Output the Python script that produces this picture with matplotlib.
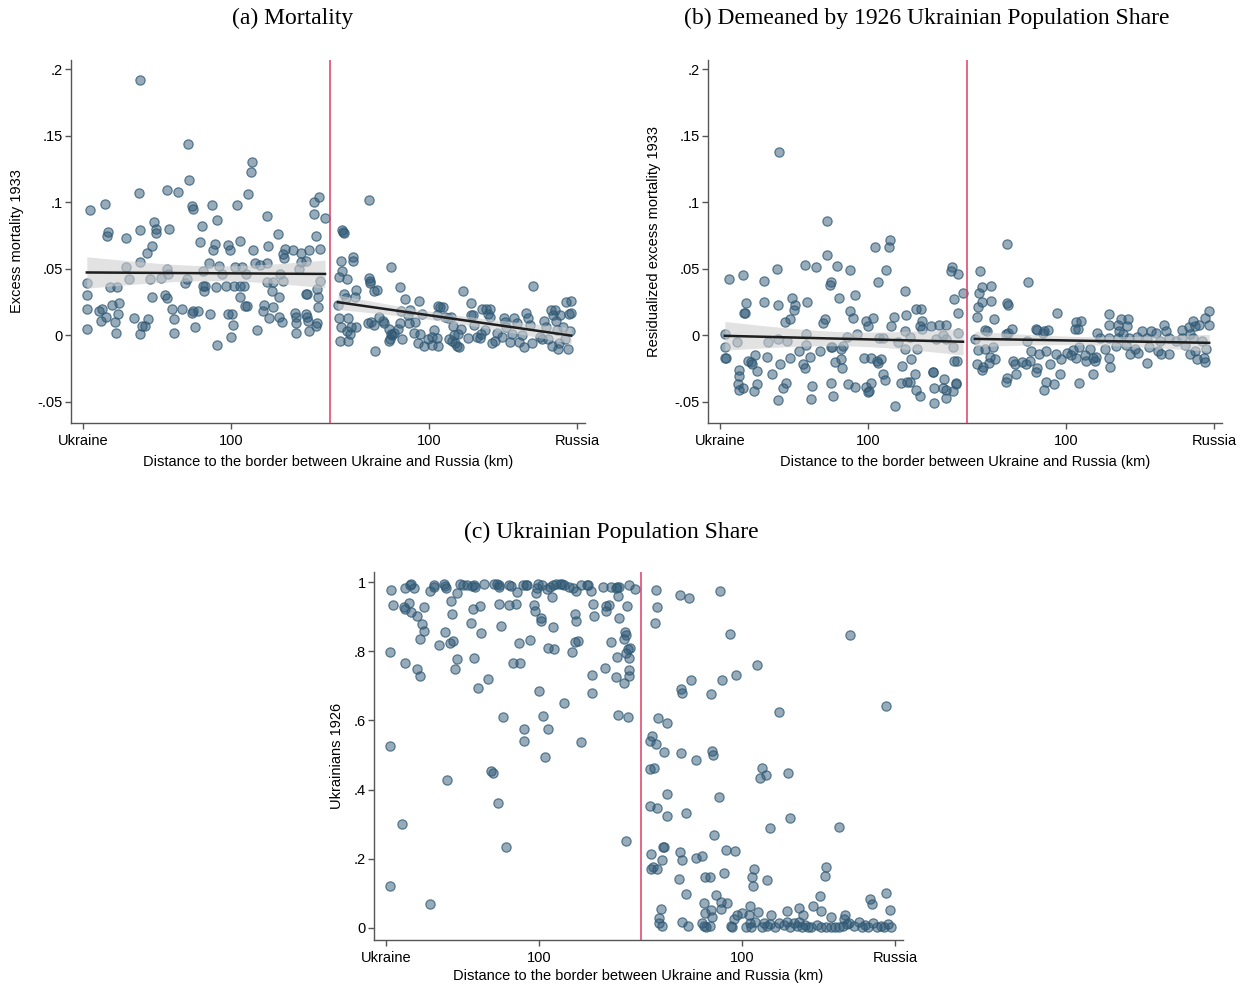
import numpy as np
import matplotlib
matplotlib.use("Agg")
import matplotlib.pyplot as plt

# ---- (a) excess mortality 1933, distance in km (negative = Ukrainian side)
a_west_km = [-246, -246, -246, -246, -243, -231, -234, -232, -228, -226,
             -225, -227, -223, -221, -217, -216, -215, -214, -213, -206,
             -206, -203, -198, -193, -192, -192, -192, -192, -190, -187,
             -185, -184, -182, -180, -180, -178, -176, -176, -171, -167,
             -165, -165, -163, -164, -165, -160, -158, -158, -154, -150,
             -147, -145, -144, -143, -140, -139, -140, -139, -137, -134,
             -132, -129, -128, -128, -127, -126, -122, -121, -119, -118,
             -116, -115, -114, -114, -112, -109, -105, -103, -103, -101,
             -100, -99, -98, -97, -96, -94, -91, -91, -91, -89,
             -87, -86, -84, -85, -83, -80, -79, -78, -76, -74,
             -71, -68, -67, -64, -64, -63, -64, -62, -59, -58,
             -58, -53, -52, -52, -51, -49, -48, -47, -46, -48,
             -37, -35, -34, -34, -34, -31, -29, -29, -24, -24,
             -23, -24, -23, -22, -21, -21, -16, -16, -14, -13,
             -12, -12, -13, -14, -11, -10, -10, -5]
a_west_mort = [0.039, 0.030, 0.020, 0.005, 0.094, 0.020, 0.018, 0.011, 0.099, 0.075,
               0.078, 0.014, 0.036, 0.023, 0.010, 0.002, 0.036, 0.016, 0.024, 0.073,
               0.051, 0.042, 0.013, 0.107, 0.079, 0.055, 0.192, 0.001, 0.007, 0.007,
               0.062, 0.012, 0.042, 0.067, 0.029, 0.085, 0.077, 0.080, 0.043, 0.030,
               0.109, 0.028, 0.080, 0.046, 0.050, 0.020, 0.012, 0.002, 0.108, 0.020,
               0.039, 0.042, 0.144, 0.117, 0.097, 0.095, 0.017, 0.018, 0.006, 0.018,
               0.070, 0.082, 0.048, 0.037, 0.033, 0.037, 0.054, 0.016, 0.098, 0.064,
               0.069, 0.036, -0.007, 0.087, 0.052, 0.046, 0.037, 0.068, 0.016, 0.064,
               -0.001, 0.016, 0.008, 0.037, 0.051, 0.098, 0.071, 0.037, 0.029, 0.051,
               0.037, 0.022, 0.022, 0.046, 0.106, 0.123, 0.130, 0.064, 0.054, 0.004,
               0.053, 0.018, 0.023, 0.040, 0.090, 0.067, 0.054, 0.013, 0.033, 0.021,
               0.040, 0.076, 0.014, 0.029, 0.046, 0.010, 0.061, 0.058, 0.065, 0.041,
               0.064, 0.017, 0.009, 0.014, 0.002, 0.050, 0.062, 0.055, 0.056, 0.031,
               0.031, 0.016, 0.014, 0.011, 0.064, 0.003, 0.100, 0.091, 0.075, 0.035,
               0.029, 0.021, 0.009, 0.007, 0.104, 0.041, 0.065, 0.088]
a_east_km = [39, 12, 14, 13, 11, 23, 23, 12, 9, 17,
             62, 39, 40, 40, 45, 48, 71, 14, 26, 25,
             16, 8, 9, 18, 11, 21, 26, 17, 20, 18,
             10, 38, 41, 45, 46, 50, 55, 54, 60, 62,
             61, 63, 60, 65, 69, 71, 73, 72, 76, 79,
             81, 80, 86, 85, 90, 93, 91, 89, 95, 99,
             103, 103, 105, 108, 109, 109, 111, 114, 108, 116,
             119, 120, 122, 124, 123, 125, 126, 128, 131, 130,
             133, 135, 140, 143, 143, 145, 146, 149, 152, 153,
             154, 157, 158, 160, 162, 162, 164, 167, 169, 174,
             176, 177, 178, 182, 184, 186, 189, 191, 194, 196,
             198, 200, 202, 204, 205, 212, 215, 217, 219, 221,
             224, 225, 226, 228, 229, 230, 231, 232, 233, 236,
             238, 239, 241, 242, 243, 244, 244]
a_east_mort = [0.102, 0.079, 0.077, 0.078, 0.056, 0.059, 0.056, 0.048, 0.044, 0.042,
               0.051, 0.043, 0.041, 0.039, 0.033, 0.034, 0.036, 0.031, 0.034, 0.029,
               0.028, 0.023, 0.013, 0.013, 0.006, 0.006, 0.006, 0.003, 0.001, -0.004,
               -0.004, 0.009, 0.010, 0.008, -0.012, 0.014, 0.009, 0.011, 0.005, 0.001,
               -0.003, 0.000, -0.004, 0.002, 0.005, 0.009, -0.003, 0.018, 0.027, 0.015,
               0.019, 0.009, 0.010, 0.002, 0.026, 0.016, 0.001, -0.006, -0.008, -0.003,
               -0.007, -0.001, 0.004, -0.002, -0.008, 0.022, 0.021, 0.021, 0.015, 0.014,
               0.013, -0.003, 0.014, 0.007, -0.004, 0.000, -0.006, -0.008, -0.009, 0.001,
               0.005, 0.033, -0.002, 0.024, 0.015, 0.015, 0.008, -0.001, -0.002, 0.001,
               0.020, 0.004, 0.020, 0.016, 0.020, 0.014, -0.006, -0.004, 0.002, -0.001,
               0.013, 0.010, 0.006, -0.005, 0.001, 0.013, 0.009, -0.005, 0.000, -0.009,
               0.017, 0.013, 0.008, -0.006, 0.037, -0.001, -0.003, 0.011, 0.006, -0.003,
               0.019, -0.008, 0.015, 0.019, 0.011, 0.004, -0.010, -0.006, 0.015, 0.006,
               -0.003, 0.025, -0.010, 0.016, 0.003, 0.026, 0.017]

# ---- (b) residualized excess mortality
b_west_km = [-190, -142, -78, -79, -93, -142, -241, -227, -205, -192,
             -164, -153, -131, -118, -82, -138, -139, -90, -63, -15,
             -16, -9, -4, -113, -129, -177, -174, -175, -224, -225,
             -226, -205, -191, -162, -118, -115, -144, -146, -179, -184,
             -102, -95, -100, -74, -62, -77, -52, -47, -45, -48,
             -46, -36, -28, -21, -13, -9, -63, -245, -233, -201,
             -191, -182, -163, -163, -111, -121, -89, -85, -70, -58,
             -31, -24, -21, -9, -14, -245, -244, -245, -214, -222,
             -219, -217, -202, -212, -231, -231, -189, -179, -170, -166,
             -164, -159, -149, -138, -137, -134, -127, -126, -127, -125,
             -104, -97, -91, -90, -87, -63, -51, -57, -66, -85,
             -83, -53, -34, -34, -23, -13, -10, -232, -231, -227,
             -215, -212, -197, -183, -186, -191, -157, -158, -138, -136,
             -120, -113, -102, -99, -97, -100, -73, -67, -61, -58,
             -52, -48, -33, -33, -24, -21, -21, -14, -11, -11]
b_west_resid = [0.138, 0.086, 0.072, 0.066, 0.066, 0.060, 0.042, 0.045, 0.041, 0.050,
                0.053, 0.051, 0.052, 0.049, 0.049, 0.040, 0.038, 0.040, 0.033, 0.051,
                0.048, 0.046, 0.032, 0.030, 0.028, 0.028, 0.023, 0.019, 0.024, 0.017,
                0.017, 0.025, 0.023, 0.025, 0.018, 0.013, 0.012, 0.009, 0.012, 0.010,
                0.011, 0.013, 0.007, 0.014, 0.015, 0.007, 0.020, 0.020, 0.011, 0.007,
                0.005, 0.007, 0.008, 0.008, 0.027, 0.017, 0.003, 0.001, -0.005, -0.005,
                -0.003, -0.004, 0.001, -0.007, 0.001, -0.001, -0.002, -0.002, -0.005, -0.001,
                -0.003, 0.000, -0.003, 0.002, -0.009, -0.009, -0.017, -0.017, -0.015, -0.019,
                -0.020, -0.022, -0.016, -0.027, -0.026, -0.031, -0.022, -0.017, -0.012, -0.022,
                -0.025, -0.016, -0.012, -0.009, -0.009, -0.020, -0.018, -0.025, -0.010, -0.008,
                -0.017, -0.017, -0.019, -0.021, -0.018, -0.010, -0.010, -0.018, -0.023, -0.029,
                -0.034, -0.029, -0.028, -0.028, -0.033, -0.019, -0.019, -0.037, -0.041, -0.040,
                -0.042, -0.037, -0.029, -0.036, -0.040, -0.049, -0.038, -0.048, -0.036, -0.046,
                -0.037, -0.039, -0.039, -0.042, -0.036, -0.043, -0.053, -0.036, -0.035, -0.035,
                -0.041, -0.046, -0.051, -0.040, -0.040, -0.041, -0.047, -0.042, -0.037, -0.036]
b_east_km = [40, 13, 24, 15, 12, 15, 24, 11, 40, 41,
             62, 10, 27, 91, 18, 20, 46, 41, 39, 70,
             71, 77, 82, 78, 110, 115, 109, 112, 144, 144,
             156, 163, 153, 162, 154, 158, 132, 135, 8, 11,
             18, 26, 23, 28, 10, 16, 15, 22, 47, 49,
             56, 60, 64, 50, 71, 70, 84, 94, 40, 39,
             80, 88, 78, 113, 127, 65, 61, 73, 80, 90,
             95, 101, 107, 105, 110, 113, 119, 120, 124, 127,
             130, 131, 140, 144, 145, 151, 161, 165, 170, 172,
             177, 186, 191, 201, 199, 173, 182, 184, 193, 196,
             204, 195, 218, 225, 229, 231, 235, 226, 229, 241,
             245, 245, 221, 226, 231, 233, 241, 240, 242, 238,
             144, 153, 164, 182, 204, 211, 218]
b_east_resid = [0.069, 0.048, 0.037, 0.036, 0.032, 0.025, 0.026, 0.021, 0.024, 0.023,
                0.040, 0.014, 0.012, 0.017, 0.004, 0.003, 0.005, 0.002, 0.001, 0.005,
                0.004, 0.002, 0.004, 0.003, 0.010, 0.011, 0.005, 0.005, 0.016, 0.008,
                0.012, 0.012, 0.008, 0.007, 0.003, 0.001, 0.002, -0.002, -0.003, -0.011,
                -0.010, -0.009, -0.016, -0.018, -0.022, -0.024, -0.026, -0.021, -0.019, -0.022,
                -0.020, -0.022, -0.019, -0.029, -0.025, -0.028, -0.022, -0.029, -0.032, -0.035,
                -0.035, -0.037, -0.041, -0.036, -0.029, -0.012, -0.004, -0.014, -0.012, -0.014,
                -0.018, -0.013, -0.011, -0.015, -0.017, -0.009, -0.015, -0.019, -0.010, -0.017,
                -0.019, -0.016, -0.010, -0.017, -0.024, -0.008, -0.007, -0.014, -0.010, -0.001,
                0.003, 0.003, 0.002, 0.003, 0.008, -0.013, -0.021, -0.009, -0.012, -0.014,
                -0.014, -0.004, 0.004, 0.006, 0.011, 0.007, 0.008, 0.001, -0.002, 0.013,
                0.008, 0.018, -0.007, -0.014, -0.012, -0.018, -0.020, -0.017, -0.010, -0.004,
                -0.002, -0.002, -0.002, -0.002, -0.002, -0.004, -0.002]

# ---- (c) Ukrainian population share 1926
c_west_km = [-245, -232, -227, -226, -223, -207, -203, -203, -193, -192,
             -191, -180, -177, -175, -171, -166, -164, -163, -154, -144,
             -141, -139, -139, -129, -127, -121, -116, -113, -112, -103,
             -102, -101, -97, -92, -89, -86, -83, -79, -77, -75,
             -70, -66, -63, -59, -53, -52, -49, -37, -29, -24,
             -23, -21, -11, -5, -87, -22,
             -243, -233, -232, -228, -226, -220, -213, -186, -185, -165,
             -158, -139, -129, -122, -105, -104, -98, -98, -64, -63,
             -47, -46, -34, -31, -34, -21, -13, -215, -213, -217,
             -192, -187, -184, -198, -167, -157, -137, -119, -109, -86,
             -91, -85, -67, -64, -61, -29, -15, -14, -16, -12,
             -10, -14, -11, -23, -246, -232, -220, -217, -180, -182,
             -164, -125, -118, -150, -160, -35, -48, -24, -16, -11,
             -11, -100, -48, -75, -135, -96, -22, -12, -115, -91,
             -115, -59, -246, -94, -147, -145, -190, -140, -234, -14,
             -132, -246, -207]
c_west_share = [0.977, 0.982, 0.993, 0.996, 0.984, 0.975, 0.991, 0.985, 0.994, 0.988,
                0.982, 0.969, 0.994, 0.993, 0.991, 0.988, 0.991, 0.987, 0.994, 0.996,
                0.994, 0.991, 0.987, 0.993, 0.988, 0.972, 0.991, 0.993, 0.991, 0.969,
                0.982, 0.996, 0.993, 0.980, 0.987, 0.991, 0.994, 0.994, 0.994, 0.991,
                0.987, 0.982, 0.975, 0.991, 0.993, 0.991, 0.974, 0.985, 0.985, 0.982,
                0.987, 0.987, 0.991, 0.979, 0.956, 0.960,
                0.935, 0.929, 0.921, 0.940, 0.914, 0.903, 0.929, 0.945, 0.907, 0.922,
                0.932, 0.938, 0.933, 0.937, 0.934, 0.916, 0.895, 0.888, 0.908, 0.888,
                0.936, 0.903, 0.931, 0.935, 0.917, 0.897, 0.932, 0.879, 0.859, 0.836,
                0.856, 0.823, 0.831, 0.817, 0.883, 0.852, 0.874, 0.824, 0.832, 0.871,
                0.811, 0.808, 0.798, 0.828, 0.830, 0.828, 0.856, 0.847, 0.837, 0.808,
                0.811, 0.794, 0.782, 0.784, 0.799, 0.767, 0.748, 0.728, 0.779, 0.749,
                0.781, 0.765, 0.766, 0.720, 0.695, 0.753, 0.731, 0.726, 0.709, 0.746,
                0.728, 0.684, 0.679, 0.651, 0.609, 0.613, 0.616, 0.609, 0.574, 0.575,
                0.541, 0.537, 0.526, 0.495, 0.455, 0.449, 0.428, 0.360, 0.302, 0.252,
                0.233, 0.121, 0.070]
c_east_km = [15, 39, 48, 78, 16, 14, 88, 206, 114, 50,
             80, 94, 40, 41, 69, 241, 136, 17, 26, 11,
             9, 15, 23, 40, 55, 70, 71, 9, 13, 119,
             117, 123, 145, 26, 77, 9, 16, 26, 45, 147,
             127, 195, 72, 22, 23, 10, 39, 41, 21, 55,
             60, 84, 93, 10, 12, 16, 38, 63, 68, 82,
             112, 110, 111, 124, 182, 181, 45, 74, 62, 79,
             85, 79, 69, 63, 70, 20, 18, 18, 21, 41,
             47, 60, 62, 64, 68, 89, 92, 95, 100, 108,
             107, 115, 128, 144, 156, 160, 170, 176, 177, 187,
             201, 200, 226, 228, 241, 245,
             104, 108, 109, 113, 119, 121, 124, 127, 132, 136,
             141, 144, 147, 151, 154, 156, 159, 162, 165, 168,
             173, 177, 182, 187, 191, 195, 199, 203, 210, 215,
             218, 221, 224, 229, 232, 236, 239, 243, 246, 90, 205]
c_east_share = [0.976, 0.962, 0.953, 0.974, 0.929, 0.883, 0.851, 0.847, 0.760, 0.716,
                0.716, 0.732, 0.692, 0.680, 0.676, 0.641, 0.624, 0.608, 0.593, 0.556,
                0.541, 0.531, 0.510, 0.506, 0.487, 0.513, 0.501, 0.461, 0.464, 0.462,
                0.434, 0.442, 0.448, 0.386, 0.380, 0.354, 0.347, 0.324, 0.333, 0.318,
                0.289, 0.293, 0.270, 0.235, 0.233, 0.215, 0.219, 0.196, 0.197, 0.202,
                0.209, 0.226, 0.223, 0.170, 0.175, 0.171, 0.142, 0.146, 0.148, 0.158,
                0.171, 0.146, 0.122, 0.139, 0.177, 0.151, 0.098, 0.094, 0.071, 0.076,
                0.073, 0.055, 0.052, 0.044, 0.033, 0.054, 0.028, 0.013, 0.007, 0.018,
                0.006, 0.013, 0.007, 0.004, 0.006, 0.006, 0.025, 0.037, 0.044, 0.064,
                0.038, 0.045, 0.037, 0.048, 0.058, 0.038, 0.064, 0.092, 0.050, 0.033,
                0.036, 0.025, 0.084, 0.068, 0.100, 0.052,
                0.004, 0.013, 0.002, 0.018, 0.004, 0.015, 0.006, 0.012, 0.004, 0.013,
                0.009, 0.018, 0.004, 0.013, 0.006, 0.018, 0.002, 0.009, 0.004, 0.004,
                0.009, 0.004, 0.004, 0.004, 0.004, 0.002, 0.006, 0.012, 0.006, 0.016,
                0.004, 0.009, 0.004, 0.013, 0.004, 0.006, 0.002, 0.012, 0.002, 0.004, 0.013]

x_ticks = [-250, -100, 100, 250]
x_ticklabels = ["Ukraine", "100", "100", "Russia"]
mort_ticks = [-0.05, 0, 0.05, 0.1, 0.15, 0.2]
mort_ticklabels = ["-.05", "0", ".05", ".1", ".15", ".2"]
share_ticks = [0, 0.2, 0.4, 0.6, 0.8, 1]
share_ticklabels = ["0", ".2", ".4", ".6", ".8", "1"]

plt.rcParams["font.family"] = ["Liberation Sans", "DejaVu Sans"]

PT_FACE = (0.19, 0.35, 0.46, 0.50)
PT_EDGE = (0.19, 0.35, 0.46, 0.75)
BORDER = "#dc3d64"
AXCOL = "#555555"
XLABEL = "Distance to the border between Ukraine and Russia (km)"
FS = 10.5


def linear_fit(x, y, t=1.97):
    # OLS with 95% CI of the mean prediction
    x = np.asarray(x, float)
    y = np.asarray(y, float)
    X = np.column_stack([np.ones_like(x), x])
    beta = np.linalg.lstsq(X, y, rcond=None)[0]
    res = y - X @ beta
    s2 = res @ res / (len(x) - 2)
    cov = s2 * np.linalg.inv(X.T @ X)
    grid = np.linspace(x.min(), x.max(), 100)
    G = np.column_stack([np.ones_like(grid), grid])
    pred = G @ beta
    se = np.sqrt(np.einsum("ij,jk,ik->i", G, cov, G))
    return grid, pred, pred - t * se, pred + t * se


def scatter_side(ax, x, y):
    ax.scatter(x, y, s=44, facecolor=PT_FACE, edgecolor=PT_EDGE,
               linewidth=0.9, zorder=2)


def add_fit(ax, x, y):
    g, p, lo, hi = linear_fit(x, y)
    ax.fill_between(g, lo, hi, color="#cfcfcf", alpha=0.6, lw=0, zorder=3)
    ax.plot(g, p, color="#1e1e1e", lw=1.8, zorder=4)


def style(ax, ylim, yticks, ylabels, ylabel, ylab_x, xlab_y):
    ax.set_xlim(-262, 258)
    ax.set_ylim(*ylim)
    ax.axvline(0, color=BORDER, lw=1.1, zorder=5)
    ax.set_xticks(x_ticks)
    ax.set_xticklabels(x_ticklabels)
    ax.set_yticks(yticks)
    ax.set_yticklabels(ylabels)
    for s in ["top", "right"]:
        ax.spines[s].set_visible(False)
    for s in ["left", "bottom"]:
        ax.spines[s].set_color(AXCOL)
        ax.spines[s].set_linewidth(1.0)
    ax.tick_params(direction="out", length=4, width=1, color=AXCOL,
                   labelsize=FS, pad=2)
    ax.tick_params(axis="x", pad=4)
    ax.set_ylabel(ylabel, fontsize=FS, va="center")
    ax.yaxis.set_label_coords(ylab_x, 0.5)
    ax.set_xlabel(XLABEL, fontsize=FS, va="center")
    ax.xaxis.set_label_coords(0.5, xlab_y)


fig = plt.figure(figsize=(12.5, 9.89), dpi=100)
ax_a = fig.add_axes([0.0568, 0.5723, 0.4112, 0.367])
ax_b = fig.add_axes([0.5664, 0.5723, 0.4112, 0.367])
ax_c = fig.add_axes([0.2992, 0.0495, 0.4232, 0.372])

# (a)
scatter_side(ax_a, a_west_km, a_west_mort)
scatter_side(ax_a, a_east_km, a_east_mort)
add_fit(ax_a, a_west_km, a_west_mort)
add_fit(ax_a, a_east_km, a_east_mort)
style(ax_a, (-0.066, 0.207), mort_ticks, mort_ticklabels,
      "Excess mortality 1933", -0.105, -0.107)

# (b)
scatter_side(ax_b, b_west_km, b_west_resid)
scatter_side(ax_b, b_east_km, b_east_resid)
add_fit(ax_b, b_west_km, b_west_resid)
add_fit(ax_b, b_east_km, b_east_resid)
style(ax_b, (-0.066, 0.207), mort_ticks, mort_ticklabels,
      "Residualized excess mortality 1933", -0.105, -0.107)

# (c)
scatter_side(ax_c, c_west_km, c_west_share)
scatter_side(ax_c, c_east_km, c_east_share)
style(ax_c, (-0.035, 1.029), share_ticks, share_ticklabels,
      "Ukrainians 1926", -0.07, -0.098)

title_kw = dict(family=["Liberation Serif", "DejaVu Serif"], fontsize=17,
                ha="center", va="center")
fig.text(0.2344, 0.981, "(a) Mortality", **title_kw)
fig.text(0.741, 0.981, "(b) Demeaned by 1926 Ukrainian Population Share", **title_kw)
fig.text(0.489, 0.462, "(c) Ukrainian Population Share", **title_kw)

fig.savefig("out.png", dpi=100)
